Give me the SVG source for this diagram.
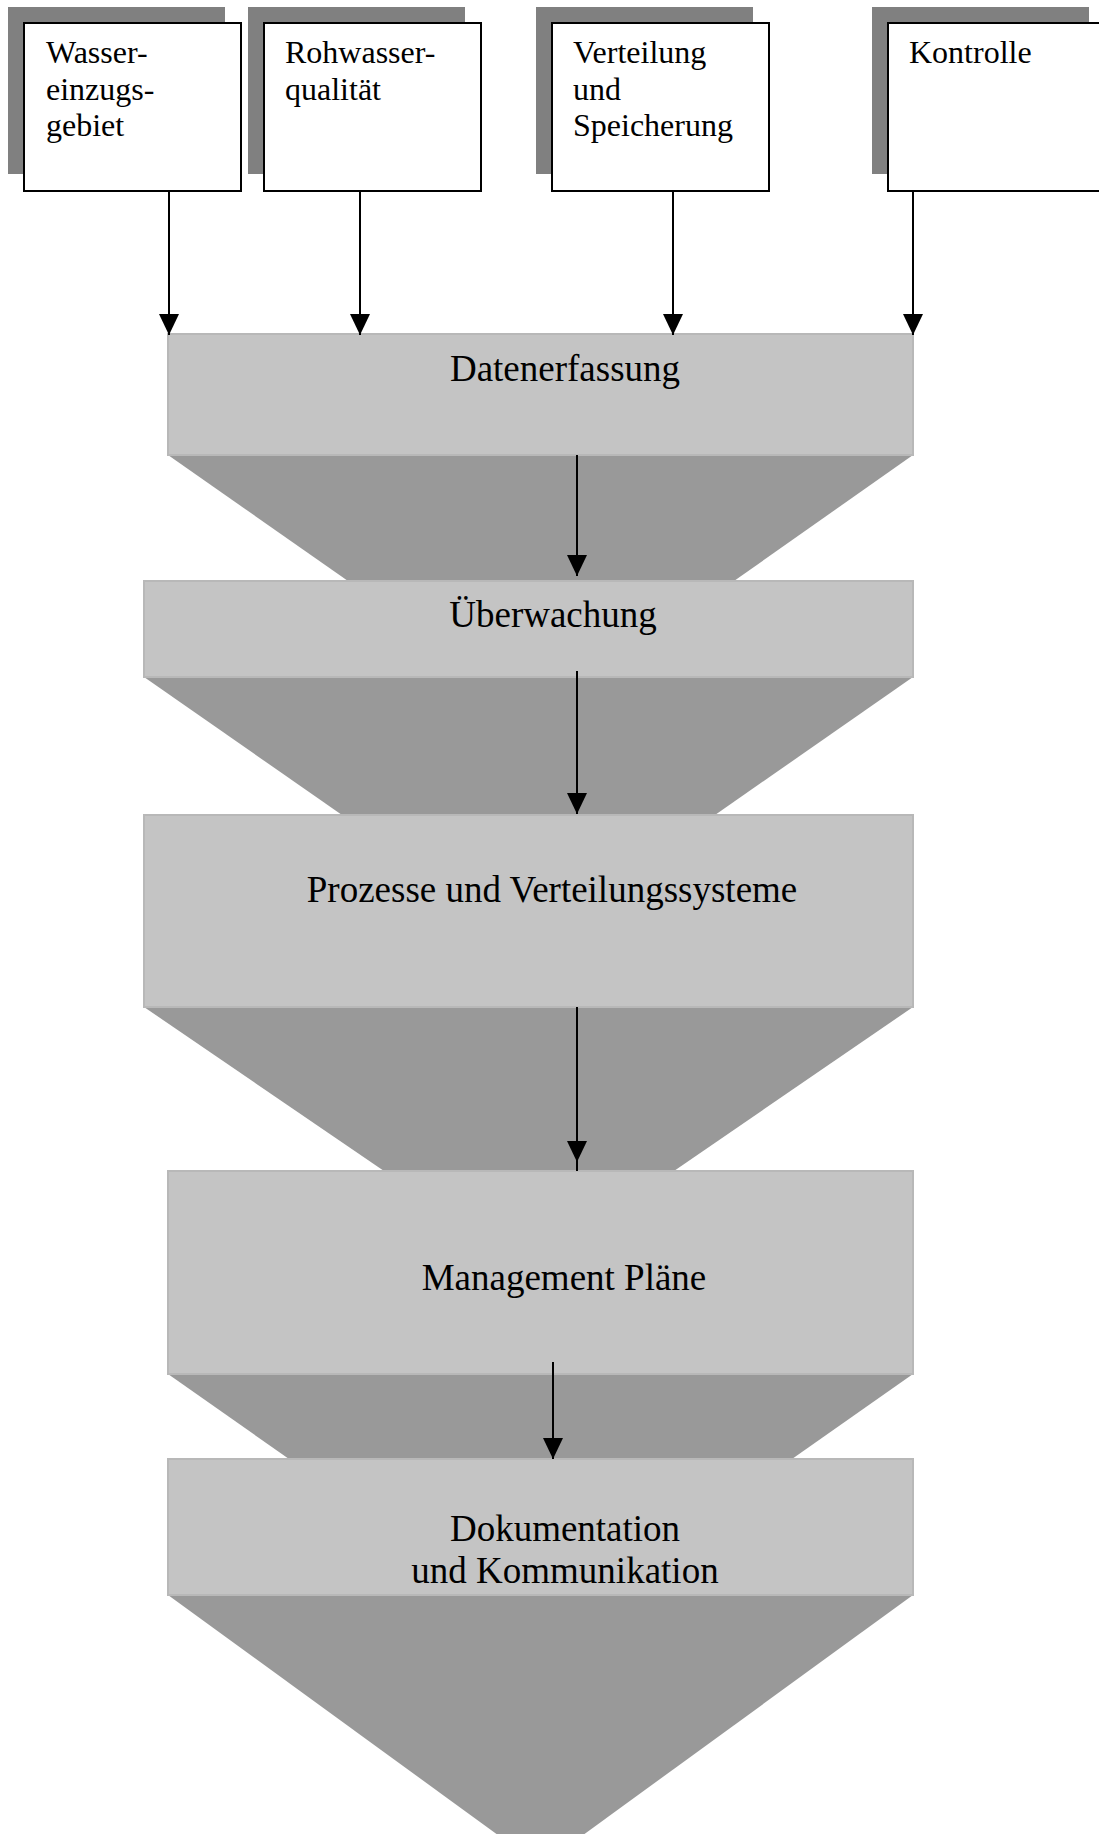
<svg xmlns="http://www.w3.org/2000/svg" width="1099" height="1834" viewBox="0 0 1099 1834">
<defs>
<style>
.shadow{fill:#808080;}
.box{fill:#ffffff;stroke:#000000;stroke-width:2;}
.btxt{font-family:"Liberation Serif","Times New Roman",serif;font-size:32px;fill:#000;}
.lvl{fill:#c4c4c4;stroke:#b8b8b8;stroke-width:2;}
.fun{fill:#999999;}
.ltxt{font-family:"Liberation Serif","Times New Roman",serif;font-size:37px;fill:#000;text-anchor:middle;}
.conn{stroke:#000;stroke-width:2;fill:none;}
</style>
<marker id="ah" markerUnits="userSpaceOnUse" markerWidth="21" markerHeight="20" refX="21" refY="10" orient="auto">
<path d="M0,0 L21,10 L0,20 z" fill="#000"/>
</marker>
</defs>
<rect width="1099" height="1834" fill="#ffffff"/>

<g id="funnel">
<polygon class="fun" points="168,455 913,455 734,581 348,581"/>
<polygon class="fun" points="144,677 913,677 715,815 342,815"/>
<polygon class="fun" points="144,1007 913,1007 674,1171 384,1171"/>
<polygon class="fun" points="168,1374 913,1374 792,1459 289,1459"/>
<polygon class="fun" points="168,1595 913,1595 540.5,1866"/>
</g>

<g id="n-datenerfassung">
<rect class="lvl" x="168" y="334" width="745" height="121"/>
<text class="ltxt" x="565" y="381">Datenerfassung</text>
</g>
<g id="n-ueberwachung">
<rect class="lvl" x="144" y="581" width="769" height="96"/>
<text class="ltxt" x="553" y="627">Überwachung</text>
</g>
<g id="n-prozesse">
<rect class="lvl" x="144" y="815" width="769" height="192"/>
<text class="ltxt" x="552" y="902">Prozesse und Verteilungssysteme</text>
</g>
<g id="n-management">
<rect class="lvl" x="168" y="1171" width="745" height="203"/>
<text class="ltxt" x="564" y="1290">Management Pläne</text>
</g>
<g id="n-dokumentation">
<rect class="lvl" x="168" y="1459" width="745" height="136"/>
<text class="ltxt" x="565" y="1541">Dokumentation</text>
<text class="ltxt" x="565" y="1583">und Kommunikation</text>
</g>

<g id="n-wasser">
<rect class="shadow" x="8" y="7" width="217" height="167"/>
<rect class="box" x="24" y="23" width="217" height="168"/>
<text class="btxt" x="46" y="63">Wasser-</text>
<text class="btxt" x="46" y="100">einzugs-</text>
<text class="btxt" x="46" y="136">gebiet</text>
</g>
<g id="n-rohwasser">
<rect class="shadow" x="248" y="7" width="217" height="167"/>
<rect class="box" x="264" y="23" width="217" height="168"/>
<text class="btxt" x="285" y="63">Rohwasser-</text>
<text class="btxt" x="285" y="100">qualität</text>
</g>
<g id="n-verteilung">
<rect class="shadow" x="536" y="7" width="217" height="167"/>
<rect class="box" x="552" y="23" width="217" height="168"/>
<text class="btxt" x="573" y="63">Verteilung</text>
<text class="btxt" x="573" y="100">und</text>
<text class="btxt" x="573" y="136">Speicherung</text>
</g>
<g id="n-kontrolle">
<rect class="shadow" x="872" y="7" width="217" height="167"/>
<rect class="box" x="888" y="23" width="217" height="168"/>
<text class="btxt" x="909" y="63">Kontrolle</text>
</g>

<g id="connectors">
<line class="conn" x1="169" y1="191" x2="169" y2="335" marker-end="url(#ah)"/>
<line class="conn" x1="360" y1="191" x2="360" y2="335" marker-end="url(#ah)"/>
<line class="conn" x1="673" y1="191" x2="673" y2="335" marker-end="url(#ah)"/>
<line class="conn" x1="913" y1="191" x2="913" y2="335" marker-end="url(#ah)"/>
<line class="conn" x1="577" y1="455" x2="577" y2="576" marker-end="url(#ah)"/>
<line class="conn" x1="577" y1="671" x2="577" y2="814" marker-end="url(#ah)"/>
<line class="conn" x1="577" y1="1007" x2="577" y2="1162" marker-end="url(#ah)"/>
<line class="conn" x1="577" y1="1160" x2="577" y2="1171"/>
<line class="conn" x1="553" y1="1362" x2="553" y2="1459" marker-end="url(#ah)"/>
</g>
</svg>
